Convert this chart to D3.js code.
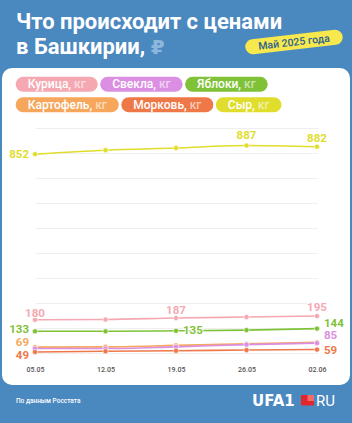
<!DOCTYPE html>
<html>
<head>
<meta charset="utf-8">
<script src="https://cdn.jsdelivr.net/npm/d3@7"></script>
<style>
  html, body { margin: 0; padding: 0; background: #4a88c0; }
  svg { display: block; font-family: Roboto, "Noto Sans", sans-serif; }
</style>
</head>
<body>
<script>
// dates on the x axis
const dates = ['05.05', '12.05', '19.05', '26.05', '02.06'];

// product names, as in the legend
const products = ['Курица', 'Свекла', 'Яблоки', 'Картофель', 'Морковь', 'Сыр'];

// prices, rub per kg
const chicken = [180, 181, 187, 191, 195];
const beet = [63, 63, 70, 79, 85];
const apples = [133, 133, 135, 138, 144];
const potato = [69, 70, 76, 82, 88];
const carrot = [49, 52, 54, 57, 59];
const cheese = [852, 868, 877, 887, 882];

const colors = ['#f5a8b1', '#da8fe2', '#7fc238', '#f6a75c', '#ef7849', '#e0dd2d'];
const series = [chicken, beet, apples, potato, carrot, cheese];

const W = 352, H = 423;

const svg = d3.select('body').append('svg')
  .attr('width', W)
  .attr('height', H);

svg.append('rect')
  .attr('width', W).attr('height', H)
  .attr('fill', '#4a88c0');

// title
const title = svg.append('g').attr('fill', '#fff').attr('font-weight', 700).attr('font-size', 22);
title.append('text').attr('x', 16).attr('y', 28.5).text('Что происходит с ценами');
const t2 = title.append('text').attr('x', 16).attr('y', 53.5);
t2.append('tspan').text('в Башкирии, ');
t2.append('tspan').attr('fill', '#8db6dc').attr('font-family', 'DejaVu Sans').attr('font-size', 20).text('₽');

// yellow badge
const badge = svg.append('g').attr('transform', 'translate(294,42) rotate(-6.5)');
badge.append('rect')
  .attr('x', -49).attr('y', -7.5)
  .attr('width', 98).attr('height', 15)
  .attr('rx', 7.5)
  .attr('fill', '#f6e84d');
badge.append('text')
  .attr('text-anchor', 'middle')
  .attr('dy', '0.35em')
  .attr('font-size', 10.5)
  .attr('font-weight', 500)
  .attr('fill', '#2c5f90')
  .text('Май 2025 года');

// white card
svg.append('rect')
  .attr('x', 2).attr('y', 68)
  .attr('width', 348).attr('height', 317)
  .attr('rx', 10)
  .attr('fill', '#fff');

// legend pills
const rows = [[0, 1, 2], [3, 4, 5]];
rows.forEach(function (row, r) {
  let x = 15.7;
  const y = 76.7 + r * 20.6;
  row.forEach(function (i) {
    const g = svg.append('g').attr('transform', `translate(${x},${y})`);
    const rect = g.append('rect')
      .attr('height', 15).attr('rx', 7.5)
      .attr('fill', colors[i]);
    const txt = g.append('text')
      .attr('x', 12).attr('y', 7.5).attr('dy', '0.35em')
      .attr('font-size', 12).attr('font-weight', 500)
      .attr('fill', '#fff');
    txt.append('tspan').text(products[i] + ',');
    txt.append('tspan').attr('fill-opacity', 0.6).text(' кг');
    const w = txt.node().getComputedTextLength() + 24;
    rect.attr('width', w);
    x += w + 2.5;
  });
});

// scales
const x = d3.scalePoint().domain(dates).range([35, 317]);
const y = d3.scaleLinear().domain([45, 958]).range([353, 128]);

// grid
const gridStep = (958 - 45) / 9;
svg.append('g')
  .attr('stroke', '#efefef')
  .attr('stroke-width', 1)
  .selectAll('line')
  .data(d3.range(10).map(i => 45 + i * gridStep))
  .join('line')
  .attr('x1', 36).attr('x2', 318)
  .attr('y1', d => Math.round(y(d)) + 0.5)
  .attr('y2', d => Math.round(y(d)) + 0.5);

// x axis labels
const xAxis = svg.append('g')
  .attr('transform', 'translate(0,370)')
  .call(d3.axisBottom(x).tickSize(0).tickPadding(0));
xAxis.select('.domain').remove();
xAxis.selectAll('text')
  .attr('dy', '0.35em')
  .attr('y', 0)
  .attr('font-family', 'Roboto')
  .attr('font-size', 7)
  .attr('font-weight', 500)
  .attr('fill', '#555');

// lines and dots
const line = d3.line()
  .x((d, i) => x(dates[i]))
  .y(d => y(d))
  .curve(d3.curveMonotoneX);

const drawOrder = [3, 1, 4, 2, 0, 5];
drawOrder.forEach(function (s) {
  const g = svg.append('g');
  g.append('path')
    .datum(series[s])
    .attr('d', line)
    .attr('fill', 'none')
    .attr('stroke', colors[s])
    .attr('stroke-width', 1.6);
  g.selectAll('circle')
    .data(series[s])
    .join('circle')
    .attr('cx', (d, i) => x(dates[i]))
    .attr('cy', d => y(d))
    .attr('r', 2.6)
    .attr('fill', colors[s])
    .attr('stroke', '#fff')
    .attr('stroke-width', 0.6);
});

// value labels: series, point index, placement, vertical nudge
const labels = [
  [5, 0, 'left', 0], [5, 3, 'top', -6], [5, 4, 'top', -5],
  [0, 0, 'top', -3], [0, 2, 'top', -4], [0, 4, 'top', -5],
  [2, 0, 'left', -2], [2, 2, 'right', -1], [2, 4, 'right', -6],
  [3, 0, 'left', -5], [1, 4, 'right', -8],
  [4, 0, 'left', 3], [4, 4, 'right', 0.5]
];

svg.append('g')
  .attr('font-size', 11.5)
  .attr('font-weight', 700)
  .selectAll('text')
  .data(labels)
  .join('text')
  .attr('fill', d => colors[d[0]])
  .attr('stroke', '#fff')
  .attr('stroke-width', 2)
  .attr('paint-order', 'stroke')
  .attr('text-anchor', d => d[2] === 'left' ? 'end' : d[2] === 'right' ? 'start' : 'middle')
  .attr('x', d => {
    const px = x(dates[d[1]]);
    return d[2] === 'left' ? px - 6 : d[2] === 'right' ? px + 7 : px;
  })
  .attr('y', d => y(series[d[0]][d[1]]) + d[3])
  .attr('dy', d => d[2] === 'top' ? 0 : '0.35em')
  .text(d => series[d[0]][d[1]]);

// footer
svg.append('text')
  .attr('x', 16).attr('y', 403)
  .attr('font-size', 6.5)
  .attr('font-weight', 500)
  .attr('fill', '#fff')
  .text('По данным Росстата');

const logo = svg.append('g').attr('fill', '#fff');
logo.append('text')
  .attr('x', 252).attr('y', 405.5)
  .attr('font-family', 'DejaVu Sans')
  .attr('font-weight', 700)
  .attr('font-size', 15)
  .text('UFA1');
logo.append('rect')
  .attr('x', 301).attr('y', 395)
  .attr('width', 13).attr('height', 10.5)
  .attr('fill', '#e3262c');
logo.append('rect')
  .attr('x', 307.5).attr('y', 395)
  .attr('width', 6.5).attr('height', 6)
  .attr('fill', '#f26b6b');
logo.append('text')
  .attr('x', 316).attr('y', 405.5)
  .attr('font-weight', 400)
  .attr('font-size', 15)
  .text('RU');
</script>
</body>
</html>
